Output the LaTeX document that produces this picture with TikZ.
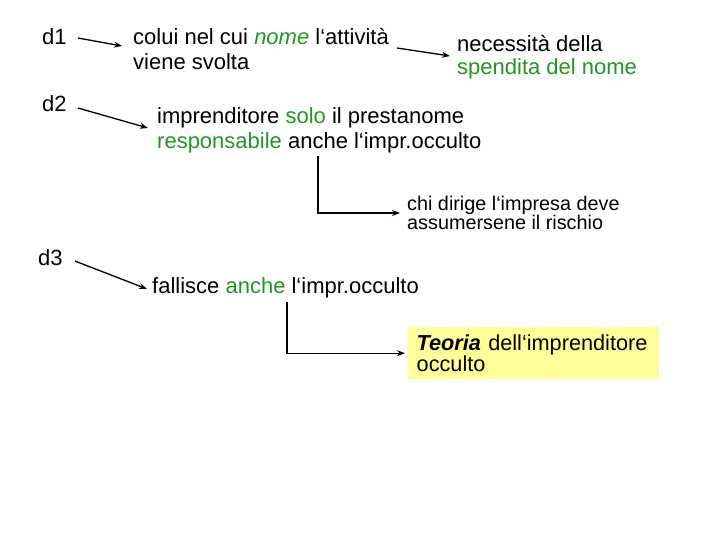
\documentclass[tikz,border=0pt]{standalone}
\usepackage{fontspec}
\setmainfont{Liberation Sans}
\usetikzlibrary{arrows.meta}
\definecolor{grn}{RGB}{34,150,34}
\definecolor{yel}{RGB}{255,255,153}
\begin{document}
\begin{tikzpicture}[x=1pt,y=-1pt,
  txt/.style={inner sep=0pt, align=left, anchor=west, font=\fontsize{22}{25}\selectfont},
  arr/.style={-{Stealth[length=8pt,width=6pt]}, line width=1.3pt}]
\useasboundingbox (0,0) rectangle (720,540);
\node[txt] (d1) at (42,37) {d1};
\node[txt] (t1) at (133,49) {colui nel cui \textcolor{grn}{\textit{nome}} l‘attività\\viene svolta};
\node[txt, font=\fontsize{22}{23}\selectfont] (t2) at (457,57) {necessità della\\\textcolor{grn}{spendita del nome}};
\node[txt] (d2) at (42,104) {d2};
\node[txt] (t3) at (157,130) {imprenditore \textcolor{grn}{solo} il prestanome\\\textcolor{grn}{responsabile} anche l‘impr.occulto};
\node[txt, font=\fontsize{19.8}{18.5}\selectfont] (t4) at (407,213) {chi dirige l‘impresa deve\\assumersene il rischio};
\node[txt] (d3) at (38,258) {d3};
\node[txt] (t5) at (152,288) {fallisce \textcolor{grn}{anche} l‘impr.occulto};
\node[fill=yel, anchor=north west, minimum width=251pt, minimum height=52pt,
      inner xsep=8.5pt, inner ysep=0pt, text width=234pt, align=left,
      font=\fontsize{21.7}{20}\selectfont] (t6) at (408,327)
  {\textbf{\textit{Teoria}} dell‘imprenditore\\occulto};
\draw[arr] ([shift={(11pt,-1pt)}]d1.east) -- ([shift={(-11pt,3pt)}]t1.west);
\draw[arr] ([shift={(-60pt,9pt)}]t2.west) -- ([shift={(-7pt,1pt)}]t2.west);
\draw[arr] ([shift={(11pt,-4pt)}]d2.east) -- ([shift={(-9pt,2pt)}]t3.west);
\draw[arr] ([shift={(161pt,-3pt)}]t3.south west) |- ([xshift=-7pt]t4.west);
\draw[arr] ([shift={(12pt,-3pt)}]d3.east) -- ([shift={(-5pt,-1pt)}]t5.west);
\draw[arr] ([shift={(135pt,-4pt)}]t5.south west) |- ([xshift=-3pt]t6.west);
\end{tikzpicture}
\end{document}
